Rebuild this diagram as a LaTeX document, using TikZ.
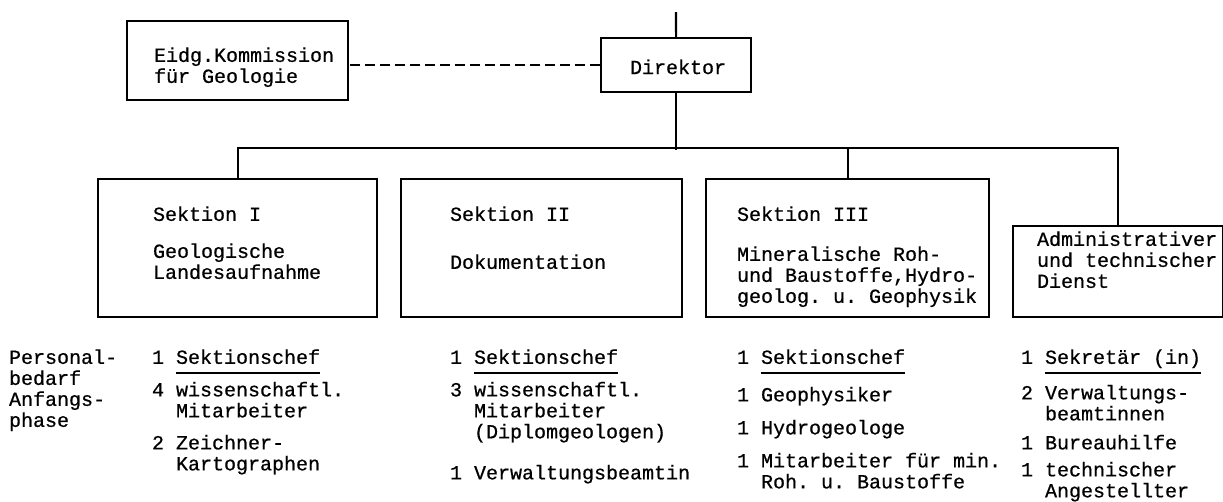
\documentclass[tikz,border=0pt]{standalone}
\usepackage{fontspec}
\setmonofont[FakeBold=0.6]{Liberation Mono}
\newcommand{\tul}[1]{\setbox0\hbox{#1}\rlap{\rule[-10pt]{\wd0}{1.4pt}}\box0}

\begin{document}
\begin{tikzpicture}[x=1pt, y=-1pt, line width=2.1pt,
        box node/.style={draw, rectangle, anchor=north west, inner sep=0pt},
        txt node/.style={anchor=north west, yshift=14.7pt, align=left, inner sep=0pt,
            font=\ttfamily\fontsize{20}{21}\selectfont, execute at begin node=\strut}]

    \useasboundingbox (0,0) rectangle (1223,501);

    \node[box node, minimum width=221pt, minimum height=79pt] (komm) at (126,20) {};
    \node[box node, minimum width=150pt, minimum height=54pt] (dir) at (600,37) {};
    \node[box node, minimum width=279pt, minimum height=138pt] (s1) at (97,178) {};
    \node[box node, minimum width=281pt, minimum height=138pt] (s2) at (400,178) {};
    \node[box node, minimum width=283pt, minimum height=138pt] (s3) at (705,178) {};
    \node[box node, minimum width=210pt, minimum height=91pt] (adm) at (1012,225) {};
    \coordinate (top) at (676,12);

    \node[txt node] (komm text) at (153,61) {Eidg.Kommission\\für Geologie};
    \node[txt node] (dir text) at (629,73) {Direktor};
    \node[txt node] (s1 text) at (152,220) {Sektion I\\[16pt]Geologische\\Landesaufnahme};
    \node[txt node] (s2 text) at (449,220) {Sektion II\\[27pt]Dokumentation};
    \node[txt node] (s3 text) at (736,220) {Sektion III\\[19pt]Mineralische Roh-\\und Baustoffe,Hydro-\\geolog. u. Geophysik};
    \node[txt node] (adm text) at (1036,245) {Administrativer\\und technischer\\Dienst};

    \node[txt node] (pers) at (8,363) {Personal-\\bedarf\\Anfangs-\\phase};
    \node[txt node] (s1 staff) at (151,363) {1 \tul{Sektionschef}\\[7pt]4 wissenschaftl.\\\phantom{4 }Mitarbeiter\\[11pt]2 Zeichner-\\\phantom{2 }Kartographen};
    \node[txt node] (s2 staff) at (449,363) {1 \tul{Sektionschef}\\[7pt]3 wissenschaftl.\\\phantom{3 }Mitarbeiter\\\phantom{3 }(Diplomgeologen)\\[20pt]1 Verwaltungsbeamtin};
    \node[txt node] (s3 staff) at (736,363) {1 \tul{Sektionschef}\\[12pt]1 Geophysiker\\[12pt]1 Hydrogeologe\\[12pt]1 Mitarbeiter für min.\\\phantom{1 }Roh. u. Baustoffe};
    \node[txt node] (adm staff) at (1020,363) {1 \tul{Sekretär (in)}\\[10pt]2 Verwaltungs-\\\phantom{2 }beamtinnen\\[8pt]1 Bureauhilfe\\[6pt]1 technischer\\\phantom{1 }Angestellter};

    \draw (top) -- (dir.north);
    \draw[dash pattern=on 10pt off 5pt] (dir.west) -- (dir.west -| komm.east);
    \draw (dir.south) -- ++(0,57);
    \draw (s1.north) -- ++(0,-30) -| (adm.north);
    \draw (s3.north) -- ++(0,-30);
\end{tikzpicture}
\end{document}
